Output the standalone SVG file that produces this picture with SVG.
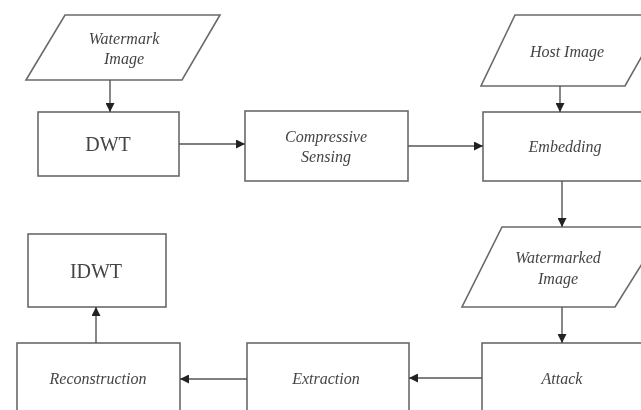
<svg xmlns="http://www.w3.org/2000/svg" width="641" height="410" viewBox="0 0 641 410">
  <defs>
    <marker id="arrow" viewBox="0 0 10 10" refX="10" refY="5" markerWidth="10" markerHeight="9" markerUnits="userSpaceOnUse" orient="auto">
      <path d="M0,0 L10,5 L0,10 Z" fill="#222"/>
    </marker>
    <filter id="soft" x="-5%" y="-5%" width="110%" height="110%">
      <feGaussianBlur stdDeviation="0.45"/>
    </filter>
  </defs>
  <style>
    .shape { fill: #ffffff; stroke: #6a6a6a; stroke-width: 1.6; }
    .link { fill: none; stroke: #555; stroke-width: 1.4; marker-end: url(#arrow); }
    .lbl { font-family: "Liberation Serif", "Times New Roman", serif; font-style: italic; font-size: 16px; fill: #444; text-anchor: middle; }
    .big { font-family: "Liberation Serif", "Times New Roman", serif; font-size: 20px; fill: #444; text-anchor: middle; }
  </style>
  <rect width="641" height="410" fill="#ffffff"/>
  <g filter="url(#soft)">
    <!-- input: watermark -->
    <g id="watermark-image">
      <polygon class="shape" points="65,15 220,15 182,80 26,80"/>
      <text class="lbl" x="124" y="44">Watermark</text>
      <text class="lbl" x="124" y="64">Image</text>
    </g>
    <g id="dwt">
      <rect class="shape" x="38" y="112" width="141" height="64"/>
      <text class="big" x="108" y="151">DWT</text>
    </g>
    <g id="compressive-sensing">
      <rect class="shape" x="245" y="111" width="163" height="70"/>
      <text class="lbl" x="326" y="142">Compressive</text>
      <text class="lbl" x="326" y="162">Sensing</text>
    </g>
    <!-- input: host -->
    <g id="host-image">
      <polygon class="shape" points="515,15 665,15 625,86 481,86"/>
      <text class="lbl" x="567" y="57">Host Image</text>
    </g>
    <g id="embedding">
      <rect class="shape" x="483" y="112" width="170" height="69"/>
      <text class="lbl" x="565" y="152">Embedding</text>
    </g>
    <g id="watermarked-image">
      <polygon class="shape" points="502,227 665,227 615,307 462,307"/>
      <text class="lbl" x="558" y="263">Watermarked</text>
      <text class="lbl" x="558" y="284">Image</text>
    </g>
    <g id="attack">
      <rect class="shape" x="482" y="343" width="175" height="80"/>
      <text class="lbl" x="562" y="384">Attack</text>
    </g>
    <g id="extraction">
      <rect class="shape" x="247" y="343" width="162" height="80"/>
      <text class="lbl" x="326" y="384">Extraction</text>
    </g>
    <g id="reconstruction">
      <rect class="shape" x="17" y="343" width="163" height="80"/>
      <text class="lbl" x="98" y="384">Reconstruction</text>
    </g>
    <g id="idwt">
      <rect class="shape" x="28" y="234" width="138" height="73"/>
      <text class="big" x="96" y="278">IDWT</text>
    </g>
    <!-- flow -->
    <g id="connectors">
      <line class="link" x1="110" y1="80" x2="110" y2="112"/>
      <line class="link" x1="179" y1="144" x2="245" y2="144"/>
      <line class="link" x1="408" y1="146" x2="483" y2="146"/>
      <line class="link" x1="560" y1="86" x2="560" y2="112"/>
      <line class="link" x1="562" y1="181" x2="562" y2="227"/>
      <line class="link" x1="562" y1="307" x2="562" y2="343"/>
      <line class="link" x1="482" y1="378" x2="409" y2="378"/>
      <line class="link" x1="247" y1="379" x2="180" y2="379"/>
      <line class="link" x1="96" y1="343" x2="96" y2="307"/>
    </g>
  </g>
</svg>
